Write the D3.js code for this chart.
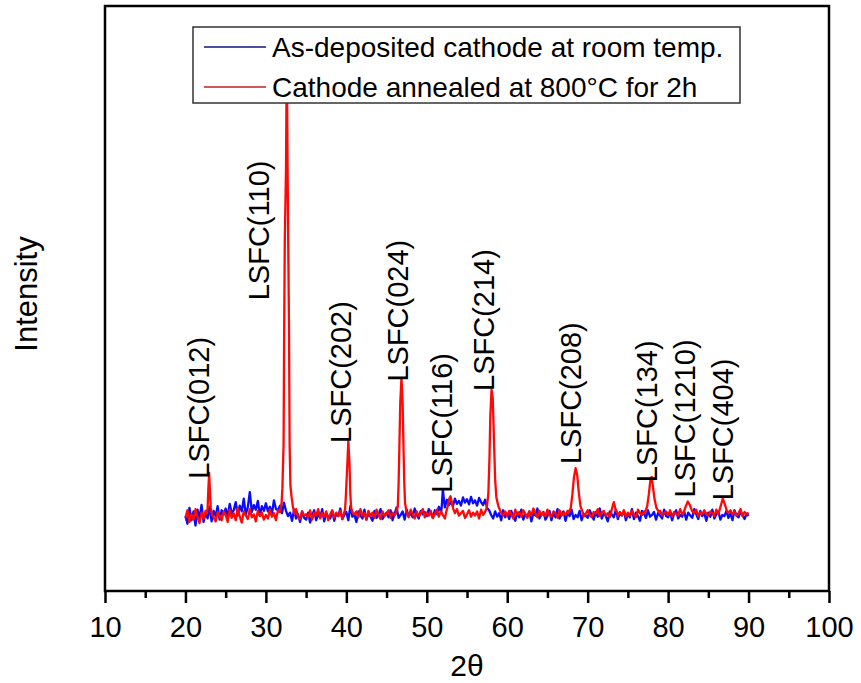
<!DOCTYPE html>
<html>
<head>
<meta charset="utf-8">
<script src="https://cdn.jsdelivr.net/npm/d3@7"></script>
<style>
  body { margin: 0; background: #fff; }
  text { font-family: "Liberation Sans", Arial, sans-serif; fill: #000; }
</style>
</head>
<body>
<div id="chart"></div>
<script>
// x axis ticks
var majorTicks = [10, 20, 30, 40, 50, 60, 70, 80, 90, 100];
var minorTicks = [15, 25, 35, 45, 55, 65, 75, 85, 95];

// background scans are read on a 0.25 deg grid starting at 20 deg
var gridStart = 20, gridStep = 0.25;

// annealed cathode (red), background counts
var redBase = [
  125,138,118,131,122,140,127,116,134,124,137,120,129,141,126,119,135,128,121,136,
  130,118,139,125,133,121,142,127,117,136,129,123,140,126,131,119,137,128,134,122,
  130,124,139,127,133,121,138,126,130,135,128,122,137,125,132,140,127,123,136,129,
  131,126,138,122,134,129,140,124,133,127,136,121,131,138,125,134,128,137,123,132,
  135,127,139,124,131,136,126,140,129,133,122,137,128,134,125,139,130,123,136,128,
  132,138,125,134,129,141,127,135,123,137,130,126,139,131,124,136,128,133,140,126,
  134,129,137,125,131,139,127,136,130,124,138,128,135,132,126,140,129,133,137,125,
  131,138,127,134,129,136,124,139,130,135,128,133,126,137,131,140,127,134,129,136,
  128,137,131,124,139,130,135,127,138,132,125,136,129,141,133,126,137,130,134,128,
  139,131,127,136,133,125,138,129,134,130,137,126,135,131,139,128,133,136,127,132,
  138,130,126,135,132,140,128,134,137,129,133,126,139,131,136,128,135,130,138,127,
  134,129,137,131,126,139,133,130,136,128,135,132,138,127,134,130,137,129,133,136,
  130,138,127,135,132,129,140,131,136,128,134,137,130,133,139,127,135,131,138,132,
  129,136,133,128,139,131,135,130,137,127,134,138,131,136,129,133,140,128,135,131,
  134
];

// annealed cathode (red), peak profiles [2theta, counts]
var redPeaks = [
  [[22.6,132],[22.75,140],[22.85,175],[22.95,202],[23.05,168],[23.15,142],[23.3,130]],
  [[31.75,135],[31.95,150],[32.05,175],[32.2,250],[32.27,440],[32.35,600],[32.5,720],[32.6,920],
   [32.7,720],[32.8,560],[32.88,440],[32.95,250],[33.05,180],[33.2,160],[33.35,145],[33.55,132]],
  [[39.7,132],[39.85,140],[39.95,165],[40.1,210],[40.25,256],[40.4,215],[40.5,165],[40.6,142],[40.8,133]],
  [[46.2,134],[46.4,145],[46.5,185],[46.6,250],[46.7,320],[46.85,364],[47.0,320],[47.1,250],
   [47.2,185],[47.3,150],[47.5,134]],
  [[52.4,134],[52.6,145],[52.8,158],[52.95,162],[53.1,152],[53.3,140],[53.5,133]],
  [[57.2,134],[57.45,142],[57.65,165],[57.8,230],[57.9,300],[58.05,344],[58.2,330],[58.35,260],
   [58.5,190],[58.65,160],[58.9,145],[59.2,135]],
  [[67.6,133],[67.9,142],[68.1,165],[68.3,195],[68.5,210],[68.7,198],[68.9,168],[69.1,145],[69.4,134]],
  [[72.9,134],[73.1,145],[73.25,152],[73.45,140],[73.7,133]],
  [[77.1,133],[77.4,145],[77.6,165],[77.8,190],[77.95,195],[78.1,180],[78.3,158],[78.55,142],[78.9,134]],
  [[81.9,133],[82.2,145],[82.45,153],[82.7,147],[83.0,136]],
  [[86.3,134],[86.55,146],[86.8,158],[87.05,148],[87.35,135]]
];

// as-deposited cathode (blue), background counts
var blueBase = [
  128,115,142,121,136,112,139,125,147,118,133,124,144,119,137,128,145,122,138,131,
  141,127,149,133,138,152,129,146,136,158,131,143,169,135,147,139,154,130,145,137,
  150,136,144,132,155,140,138,146,133,151,137,128,134,120,139,124,131,118,136,125,
  122,134,117,129,138,121,131,126,140,119,133,127,124,137,120,132,128,141,123,130,
  135,121,145,127,131,118,136,129,124,139,122,133,127,120,137,125,131,140,123,129,
  134,126,138,121,132,143,125,130,136,122,139,128,133,126,141,130,124,137,131,135,
  128,140,133,125,138,131,144,136,150,143,156,147,152,145,158,149,154,146,160,151,
  157,148,161,150,155,146,159,152,147,156,142,138,130,124,136,127,133,121,138,126,
  132,123,137,128,120,134,126,139,122,131,127,136,119,133,129,141,124,130,135,122,
  128,137,121,133,126,140,124,131,136,120,134,128,139,123,130,126,137,121,132,129,
  125,138,130,122,135,127,141,124,132,128,119,136,131,126,139,123,133,129,137,121,
  131,126,140,123,134,128,120,137,132,125,138,127,130,135,122,133,129,124,139,128,
  126,135,121,132,138,124,130,127,136,122,134,129,125,140,131,123,137,128,133,120,
  134,127,139,124,131,136,122,130,128,137,125,133,121,138,129,126,135,130,123,132,
  128
];

// as-deposited cathode (blue), peak profiles
var bluePeaks = [
  [[51.8,135],[51.9,152],[52.0,174],[52.1,160],[52.2,148]]
];

// reflection labels: text, 2theta of label baseline, counts where label starts
var peakLabels = ["LSFC(012)", "LSFC(110)", "LSFC(202)", "LSFC(024)", "LSFC(116)",
                  "LSFC(214)", "LSFC(208)", "LSFC(134)", "LSFC(1210)", "LSFC(404)"];
var labelTheta = [22.93, 30.39, 40.58, 47.67, 53.14, 58.36, 69.18, 78.62, 83.35, 88.07];
var labelCounts = [192, 497, 253, 358, 168, 342, 217, 186, 160, 155];

var seriesNames = ["As-deposited cathode at room temp.", "Cathode annealed at 800\u00B0C for 2h"];
var seriesColors = ["#0a0aff", "#ff0808"];
var legendColors = ["#101080", "#c02020"];

// merge grid background with peak profiles (grid points inside a peak window are dropped)
function buildScan(base, peaks) {
  var pts = [];
  base.forEach(function(v, i) {
    var t = gridStart + i * gridStep;
    var inside = peaks.some(function(p) {
      return t >= p[0][0] && t <= p[p.length - 1][0];
    });
    if (!inside) pts.push([t, v]);
  });
  peaks.forEach(function(p) { pts = pts.concat(p); });
  pts.sort(function(a, b) { return a[0] - b[0]; });
  return pts;
}

var W = 861, H = 683;
var plotLeft = 105, plotRight = 829, plotTop = 6, plotBottom = 591;

var svg = d3.select("#chart").append("svg")
  .attr("width", W).attr("height", H);

var x = d3.scaleLinear().domain([10, 100]).range([plotLeft, plotRight]);
var y = d3.scaleLinear().domain([0, 1000]).range([plotBottom, plotTop]);

var line = d3.line()
  .x(function(d) { return x(d[0]); })
  .y(function(d) { return y(d[1]); });

// scans, blue first so red sits on top
var scans = [buildScan(blueBase, bluePeaks), buildScan(redBase, redPeaks)];
scans.forEach(function(s, i) {
  svg.append("path")
    .datum(s)
    .attr("d", line)
    .attr("fill", "none")
    .attr("stroke", seriesColors[i])
    .attr("stroke-width", 2.3)
    .attr("stroke-linejoin", "round");
});

// peak labels
peakLabels.forEach(function(t, i) {
  svg.append("text")
    .attr("transform", "translate(" + x(labelTheta[i]) + "," + y(labelCounts[i]) + ") rotate(-90)")
    .style("font-size", "29px")
    .text(t);
});

// x axis, major and minor ticks
var xMajor = d3.axisBottom(x).tickValues(majorTicks).tickSize(12).tickPadding(13).tickSizeOuter(0);
var xMinor = d3.axisBottom(x).tickValues(minorTicks).tickSize(7).tickFormat("").tickSizeOuter(0);

var gMajor = svg.append("g").attr("transform", "translate(0," + plotBottom + ")").call(xMajor);
var gMinor = svg.append("g").attr("transform", "translate(0," + plotBottom + ")").call(xMinor);
[gMajor, gMinor].forEach(function(g) {
  g.select(".domain").remove();
  g.selectAll("line").attr("stroke", "#000").attr("stroke-width", 2.5);
});
gMajor.selectAll("text")
  .style("font-size", "29px")
  .style("font-family", "'Liberation Sans', Arial, sans-serif")
  .attr("fill", "#000");

// frame
svg.append("rect")
  .attr("x", plotLeft).attr("y", plotTop)
  .attr("width", plotRight - plotLeft).attr("height", plotBottom - plotTop)
  .attr("fill", "none")
  .attr("stroke", "#000")
  .attr("stroke-width", 2.5);

// axis titles
svg.append("text")
  .attr("x", 467).attr("y", 676)
  .attr("text-anchor", "middle")
  .style("font-size", "30px")
  .text("2\u03B8");

svg.append("text")
  .attr("transform", "translate(37,294) rotate(-90)")
  .attr("text-anchor", "middle")
  .style("font-size", "31px")
  .text("Intensity");

// legend
var legend = svg.append("g");
legend.append("rect")
  .attr("x", 193).attr("y", 27)
  .attr("width", 547).attr("height", 76)
  .attr("fill", "#fff")
  .attr("stroke", "#333")
  .attr("stroke-width", 1.5);

seriesNames.forEach(function(name, i) {
  var ly = 47 + i * 40;
  legend.append("line")
    .attr("x1", 204).attr("x2", 266)
    .attr("y1", ly).attr("y2", ly)
    .attr("stroke", legendColors[i])
    .attr("stroke-width", 1.3);
  legend.append("text")
    .attr("x", 272).attr("y", ly + 10)
    .style("font-size", "28px")
    .text(name);
});
</script>
</body>
</html>
